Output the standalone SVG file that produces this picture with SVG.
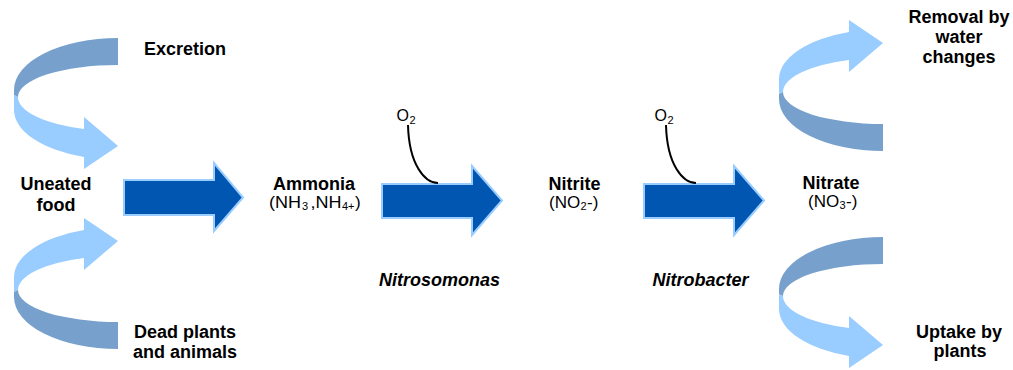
<svg xmlns="http://www.w3.org/2000/svg" xmlns:xlink="http://www.w3.org/1999/xlink" width="1013" height="370" viewBox="0 0 1013 370">
  <style>
    .lbl { font-family: "Liberation Sans", Arial, sans-serif; font-size: 18px; font-weight: bold; fill: #000; text-anchor: middle; }
    .bug { font-family: "Liberation Sans", Arial, sans-serif; font-size: 18px; font-weight: bold; font-style: italic; fill: #000; text-anchor: middle; }
    .chem { font-family: "Liberation Sans", Arial, sans-serif; font-size: 17px; fill: #000; }
    .sub { font-size: 11px; }
    .flow { fill: #0056B0; stroke: #99CCFF; stroke-width: 2; stroke-linejoin: miter; }
    .back { fill: #77A1CC; }
    .front { fill: #99CCFF; }
    .o2 { fill: none; stroke: #000; stroke-width: 2; }
  </style>
  <defs>
    <!-- curled ribbon arrow: dark back face and light front face ending in a head -->
    <g id="curl">
      <path class="front" d="M14,95 L14,110 A104,50 0 0 0 84,157 L84,169 L118,146 L84,117 L84,129 A100,34 0 0 1 18,97 Z"/>
      <path class="back" d="M118,38 A104,52 0 0 0 14,90 L14,95 L18,97 A100,32 0 0 1 118,65 Z"/>
    </g>
  </defs>

  <g id="connectors">
    <use xlink:href="#curl"/>
    <use xlink:href="#curl" transform="translate(0,387) scale(1,-1)"/>
    <use xlink:href="#curl" transform="translate(765,189) scale(1,-1)"/>
    <use xlink:href="#curl" transform="translate(765,199)"/>
    <polygon class="flow" points="124,180 214,180 214,163 243,197.5 214,231 214,215 124,215"/>
    <polygon class="flow" points="382,184 472,184 472,166 502,200.5 472,235 472,218 382,218"/>
    <polygon class="flow" points="644,184 734,184 734,166 764,200.5 734,235 734,218 644,218"/>
    <path class="o2" d="M408,125 C409,165 425,183 438,183"/>
    <path class="o2" d="M666,125 C667,165 683,183 696,183"/>
  </g>

  <g id="excretion"><text class="lbl" x="185" y="55">Excretion</text></g>
  <g id="uneated-food">
    <text class="lbl" x="56" y="190">Uneated</text>
    <text class="lbl" x="56" y="211">food</text>
  </g>
  <g id="dead-matter">
    <text class="lbl" x="185" y="338">Dead plants</text>
    <text class="lbl" x="185" y="358">and animals</text>
  </g>
  <g id="ammonia">
    <text class="lbl" x="314" y="190">Ammonia</text>
    <text class="chem" y="208"><tspan x="269" textLength="32" lengthAdjust="spacingAndGlyphs">(NH</tspan><tspan class="sub" x="302" dy="2">3</tspan><tspan x="310.5" dy="-2" textLength="31" lengthAdjust="spacingAndGlyphs">,NH</tspan><tspan class="sub" x="342" dy="2">4+</tspan><tspan x="355" dy="-2">)</tspan></text>
  </g>
  <g id="o2-first">
    <text class="chem" y="121"><tspan x="396.5" font-size="16">O</tspan><tspan class="sub" x="409.5" dy="3">2</tspan></text>
  </g>
  <g id="nitrite">
    <text class="lbl" x="574.5" y="190">Nitrite</text>
    <text class="chem" y="208"><tspan x="549">(NO</tspan><tspan class="sub" x="580.5" dy="2">2</tspan><tspan x="587" dy="-2">-)</tspan></text>
  </g>
  <g id="o2-second">
    <text class="chem" y="121"><tspan x="654.5" font-size="16">O</tspan><tspan class="sub" x="667.5" dy="3">2</tspan></text>
  </g>
  <g id="nitrate">
    <text class="lbl" x="831" y="189">Nitrate</text>
    <text class="chem" y="207"><tspan x="808">(NO</tspan><tspan class="sub" x="839.5" dy="2">3</tspan><tspan x="846" dy="-2">-)</tspan></text>
  </g>
  <g id="nitrosomonas"><text class="bug" x="439.5" y="286">Nitrosomonas</text></g>
  <g id="nitrobacter"><text class="bug" x="700.5" y="286">Nitrobacter</text></g>
  <g id="water-changes">
    <text class="lbl" x="959" y="23">Removal by</text>
    <text class="lbl" x="959" y="43">water</text>
    <text class="lbl" x="959" y="63">changes</text>
  </g>
  <g id="plant-uptake">
    <text class="lbl" x="959" y="338">Uptake by</text>
    <text class="lbl" x="960" y="357">plants</text>
  </g>
</svg>
